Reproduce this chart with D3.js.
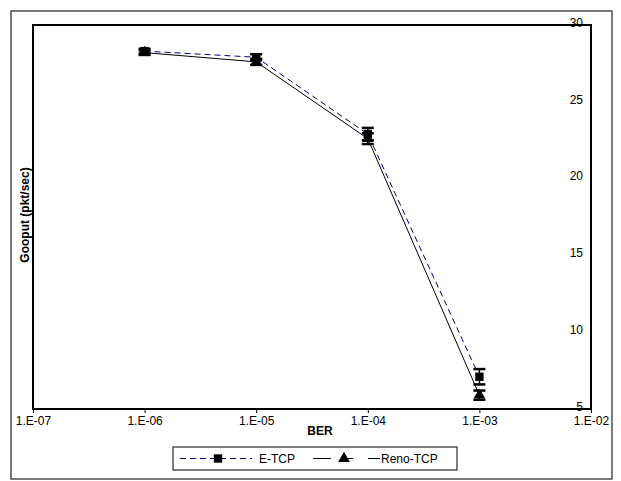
<!DOCTYPE html>
<html>
<head>
<meta charset="utf-8">
<script src="https://cdn.jsdelivr.net/npm/d3@7"></script>
<style>
  body { margin: 0; background: #fff; }
  text { font-family: "Liberation Sans", Arial, sans-serif; }
</style>
</head>
<body>
<svg id="chart" width="621" height="481"></svg>
<script>
// data
const berValues = [1e-6, 1e-5, 1e-4, 1e-3];
const xTicks = [1e-7, 1e-6, 1e-5, 1e-4, 1e-3, 1e-2];
const yTicks = [5, 10, 15, 20, 25, 30];
const etcp = [28.3, 27.9, 22.9, 7.1];
const etcpErr = [0.15, 0.2, 0.4, 0.5];
const reno = [28.2, 27.6, 22.6, 5.9];
const renoErr = [0.15, 0.2, 0.35, 0.3];

const svg = d3.select("#chart");
const plot = {left: 33, right: 591, top: 25, bottom: 409};

const x = d3.scaleLog().domain([1e-7, 1e-2]).range([plot.left, plot.right]);
const y = d3.scaleLinear().domain([5, 30]).range([plot.bottom, plot.top]);

// outer chart border
svg.append("rect")
	.attr("x", 11).attr("y", 11)
	.attr("width", 601).attr("height", 468)
	.style("fill", "none")
	.style("stroke", "#333")
	.style("stroke-width", 1.3);

// plot area
svg.append("rect")
	.attr("x", plot.left).attr("y", plot.top)
	.attr("width", plot.right - plot.left).attr("height", plot.bottom - plot.top)
	.style("fill", "none")
	.style("stroke", "#000")
	.style("stroke-width", 2);

// x axis
const fmt = d => "1.E-" + String(-Math.round(Math.log10(d))).padStart(2, "0");
const xAxis = svg.append("g")
	.attr("transform", "translate(0," + plot.bottom + ")")
	.call(d3.axisBottom(x).tickValues(xTicks).tickFormat(fmt).tickSize(4).tickSizeOuter(0));
xAxis.select(".domain").remove();
xAxis.selectAll("text").style("font-size", "12px").attr("dy", "0.9em").attr("y", 5);

// y axis on the right, labels sit inside
const yAxis = svg.append("g")
	.attr("transform", "translate(" + plot.right + ",0)")
	.call(d3.axisLeft(y).tickValues(yTicks).tickSize(0).tickPadding(8));
yAxis.select(".domain").remove();
yAxis.selectAll("text").style("font-size", "12px").attr("dy", "0.1em");

// axis titles
svg.append("text")
	.attr("x", 320).attr("y", 435)
	.attr("text-anchor", "middle")
	.style("font-size", "12px")
	.style("font-weight", "bold")
	.text("BER");

svg.append("text")
	.attr("transform", "translate(25,215) rotate(-90)")
	.attr("text-anchor", "middle")
	.attr("dy", "0.35em")
	.style("font-size", "12px")
	.style("font-weight", "bold")
	.text("Gooput (pkt/sec)");

const line = d3.line().x(d => x(d.ber)).y(d => y(d.v));
const series = [
	{name: "E-TCP", values: etcp, err: etcpErr, color: "#000080", dash: "6,4", marker: d3.symbolSquare},
	{name: "Reno-TCP", values: reno, err: renoErr, color: "#000", dash: null, marker: d3.symbolTriangle}
];

series.forEach(s => {
	const pts = berValues.map((b, i) => ({ber: b, v: s.values[i], e: s.err[i]}));
	svg.append("path")
		.attr("d", line(pts))
		.style("fill", "none")
		.style("stroke", s.color)
		.style("stroke-width", 1)
		.style("stroke-dasharray", s.dash);

	const g = svg.append("g");
	// error bars
	pts.forEach(p => {
		const cx = x(p.ber);
		g.append("line")
			.attr("x1", cx).attr("x2", cx)
			.attr("y1", y(p.v - p.e)).attr("y2", y(p.v + p.e))
			.style("stroke", "#000").style("stroke-width", 1.5);
		[p.v - p.e, p.v + p.e].forEach(v => {
			g.append("line")
				.attr("x1", cx - 6).attr("x2", cx + 6)
				.attr("y1", y(v)).attr("y2", y(v))
				.style("stroke", "#000").style("stroke-width", 2.5);
		});
	});
	g.selectAll("path.m")
		.data(pts)
		.enter()
		.append("path")
		.attr("class", "m")
		.attr("transform", d => "translate(" + x(d.ber) + "," + y(d.v) + ")")
		.attr("d", d3.symbol().type(s.marker).size(s.marker === d3.symbolSquare ? 70 : 60))
		.style("fill", "#000");
});

// legend
const lg = svg.append("g");
lg.append("rect")
	.attr("x", 173).attr("y", 447)
	.attr("width", 284).attr("height", 23)
	.style("fill", "#fff")
	.style("stroke", "#000")
	.style("stroke-width", 1);
const ly = 458.5;
lg.append("line")
	.attr("x1", 180).attr("x2", 252).attr("y1", ly).attr("y2", ly)
	.style("stroke", "#000080").style("stroke-dasharray", "6,4");
lg.append("path")
	.attr("transform", "translate(218," + ly + ")")
	.attr("d", d3.symbol().type(d3.symbolSquare).size(70))
	.style("fill", "#000");
lg.append("text")
	.attr("x", 259).attr("y", ly).attr("dy", "0.35em")
	.style("font-size", "12px").text(series[0].name);
[[313, 331], [342, 353], [368, 380]].forEach(seg => {
	lg.append("line")
		.attr("x1", seg[0]).attr("x2", seg[1]).attr("y1", ly).attr("y2", ly)
		.style("stroke", "#000");
});
lg.append("path")
	.attr("transform", "translate(344," + ly + ")")
	.attr("d", d3.symbol().type(d3.symbolTriangle).size(60))
	.style("fill", "#000");
lg.append("text")
	.attr("x", 381).attr("y", ly).attr("dy", "0.35em")
	.style("font-size", "12px").text(series[1].name);
</script>
</body>
</html>
